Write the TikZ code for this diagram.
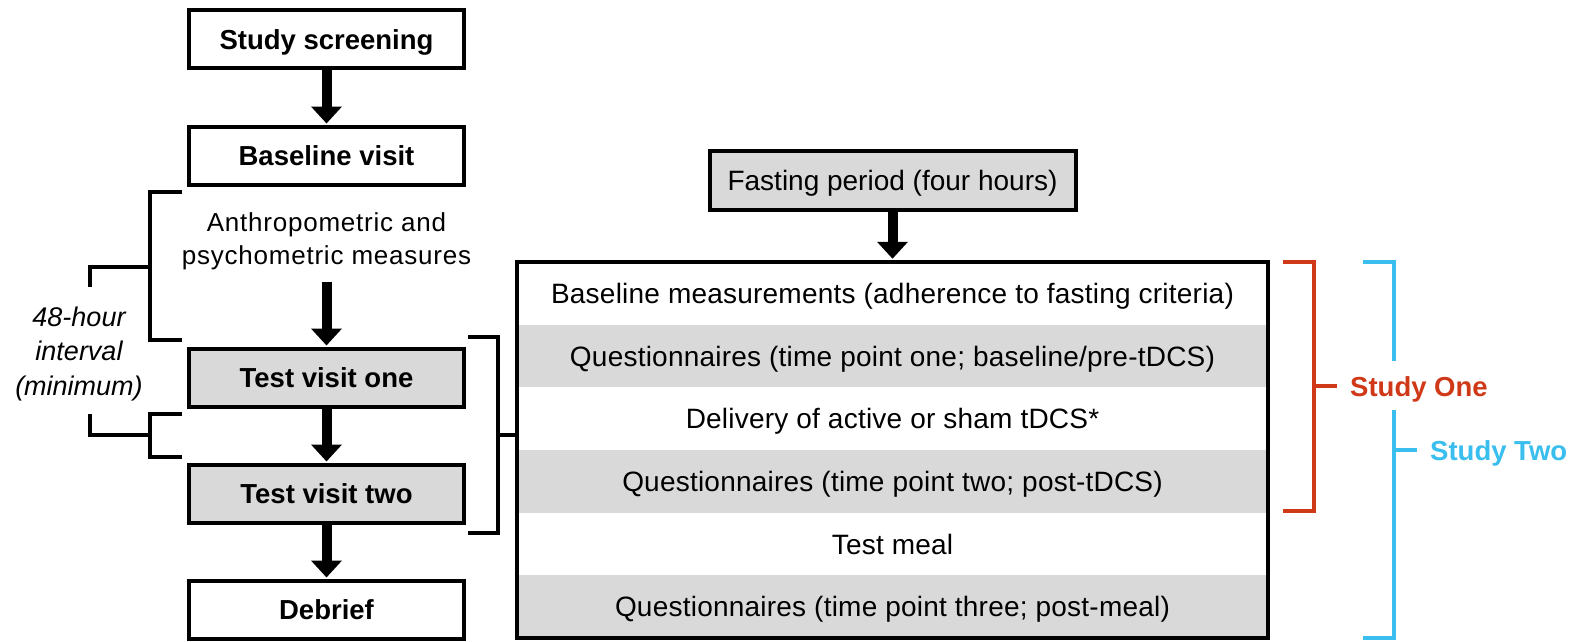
\documentclass[tikz,border=0pt]{standalone}
\usepackage{fontspec}
\setmainfont{Liberation Sans}
\usepackage{tikz}
\usetikzlibrary{calc,positioning,arrows.meta}

\definecolor{rowgray}{RGB}{217,217,217}
\definecolor{studyred}{RGB}{208,57,24}
\definecolor{studyblue}{RGB}{57,190,237}

\begin{document}
\begin{tikzpicture}[x=1pt,y=-1pt,
    visit/.style={rectangle, draw, line width=4pt, minimum width=275pt, minimum height=58pt, inner sep=0pt,
      text height=20pt, text depth=0pt, font=\fontsize{27.5}{33}\selectfont\bfseries},
    stage/.style={rectangle, draw, line width=4pt, fill=rowgray, minimum width=366pt, minimum height=59pt, inner sep=0pt,
      text height=20pt, text depth=0pt, font=\fontsize{28}{34}\selectfont},
    row/.style={rectangle, minimum width=751pt, minimum height=62.67pt, inner sep=0pt,
      text height=20pt, text depth=0pt, font=\fontsize{28}{34}\selectfont\addfontfeatures{LetterSpace=0.8}},
    frame/.style={rectangle, draw, line width=4.5pt, minimum width=751pt, minimum height=376pt},
    note/.style={align=center, inner sep=0pt, font=\fontsize{26}{33}\selectfont\addfontfeatures{LetterSpace=3}},
    studytext/.style={anchor=west, inner sep=0pt, text height=20pt, text depth=0pt, font=\fontsize{27.5}{33}\selectfont\bfseries},
    flow/.style={-{Triangle[width=30pt,length=17pt]}, line width=10pt, shorten >=1pt},
    bracket/.style={line width=3.5pt},
    studybracket/.style={line width=4.5pt}]

    \useasboundingbox (0,0) rectangle (1576,642);

    % left column
    \draw (326.5,39) node[visit] (screen) {Study screening};
    \draw (326.5,155.5) node[visit] (base) {Baseline visit};
    \draw (326.5,241.5) node[note] (anthro) {Anthropometric and\\psychometric measures};
    \draw (326.5,377.5) node[visit, fill=rowgray] (test1) {Test visit one};
    \draw (326.5,493.5) node[visit, fill=rowgray] (test2) {Test visit two};
    \draw (326.5,609.5) node[visit] (debrief) {Debrief};
    \draw (79,353.7) node[note, font=\fontsize{27}{34.5}\selectfont\itshape] (interval) {48-hour\\interval\\(minimum)};

    % right column
    \draw (892.5,180.5) node[stage] (fast) {Fasting period (four hours)};
    \draw (892.5,293.3) node[row] (r1) {Baseline measurements (adherence to fasting criteria)};
    \draw (892.5,356.0) node[row, fill=rowgray] (r2) {Questionnaires (time point one; baseline/pre-tDCS)};
    \draw (892.5,418.7) node[row] (r3) {Delivery of active or sham tDCS*};
    \draw (892.5,481.3) node[row, fill=rowgray] (r4) {Questionnaires (time point two; post-tDCS)};
    \draw (892.5,544.0) node[row] (r5) {Test meal};
    \draw (892.5,606.7) node[row, fill=rowgray] (r6) {Questionnaires (time point three; post-meal)};
    \draw (892.5,450) node[frame] (session) {};

    % arrows
    \draw[flow] (screen) -- (base);
    \draw[flow, shorten <=12pt] (anthro) -- (test1);
    \draw[flow] (test1) -- (test2);
    \draw[flow] (test2) -- (debrief);
    \draw[flow] (fast) -- (session);

    % brackets
    \coordinate (gap1) at (150,267);
    \coordinate (gap2) at (150,435);
    \coordinate (visits) at (498,435);
    \draw[bracket] (182,192) -- (150,192) -- (150,340) -- (182,340);
    \draw[bracket] (gap1) -| (90,287);
    \draw[bracket] (182,414) -- (150,414) -- (150,457) -- (182,457);
    \draw[bracket] (gap2) -| (90,414);
    \draw[bracket] (468,337) -- (498,337) -- (498,533) -- (468,533);
    \draw[bracket] (visits) -- (visits -| session.west);

    % studies
    \draw (1350,386) node[studytext, text=studyred] (one) {Study One};
    \draw (1430,450) node[studytext, text=studyblue] (two) {Study Two};
    \coordinate (redmid) at (1314,386);
    \coordinate (bluemid) at (1394,450);
    \draw[studybracket, studyred] (1283,262) -- (1314,262) -- (1314,511) -- (1283,511);
    \draw[studybracket, studyred] (redmid) -- ([xshift=-13pt]one.west);
    \draw[studybracket, studyblue] (1363,262) -- (1394,262) -- (1394,361);
    \draw[studybracket, studyblue] (1394,410) -- (1394,638) -- (1363,638);
    \draw[studybracket, studyblue] (bluemid) -- ([xshift=-13pt]two.west);

\end{tikzpicture}
\end{document}
